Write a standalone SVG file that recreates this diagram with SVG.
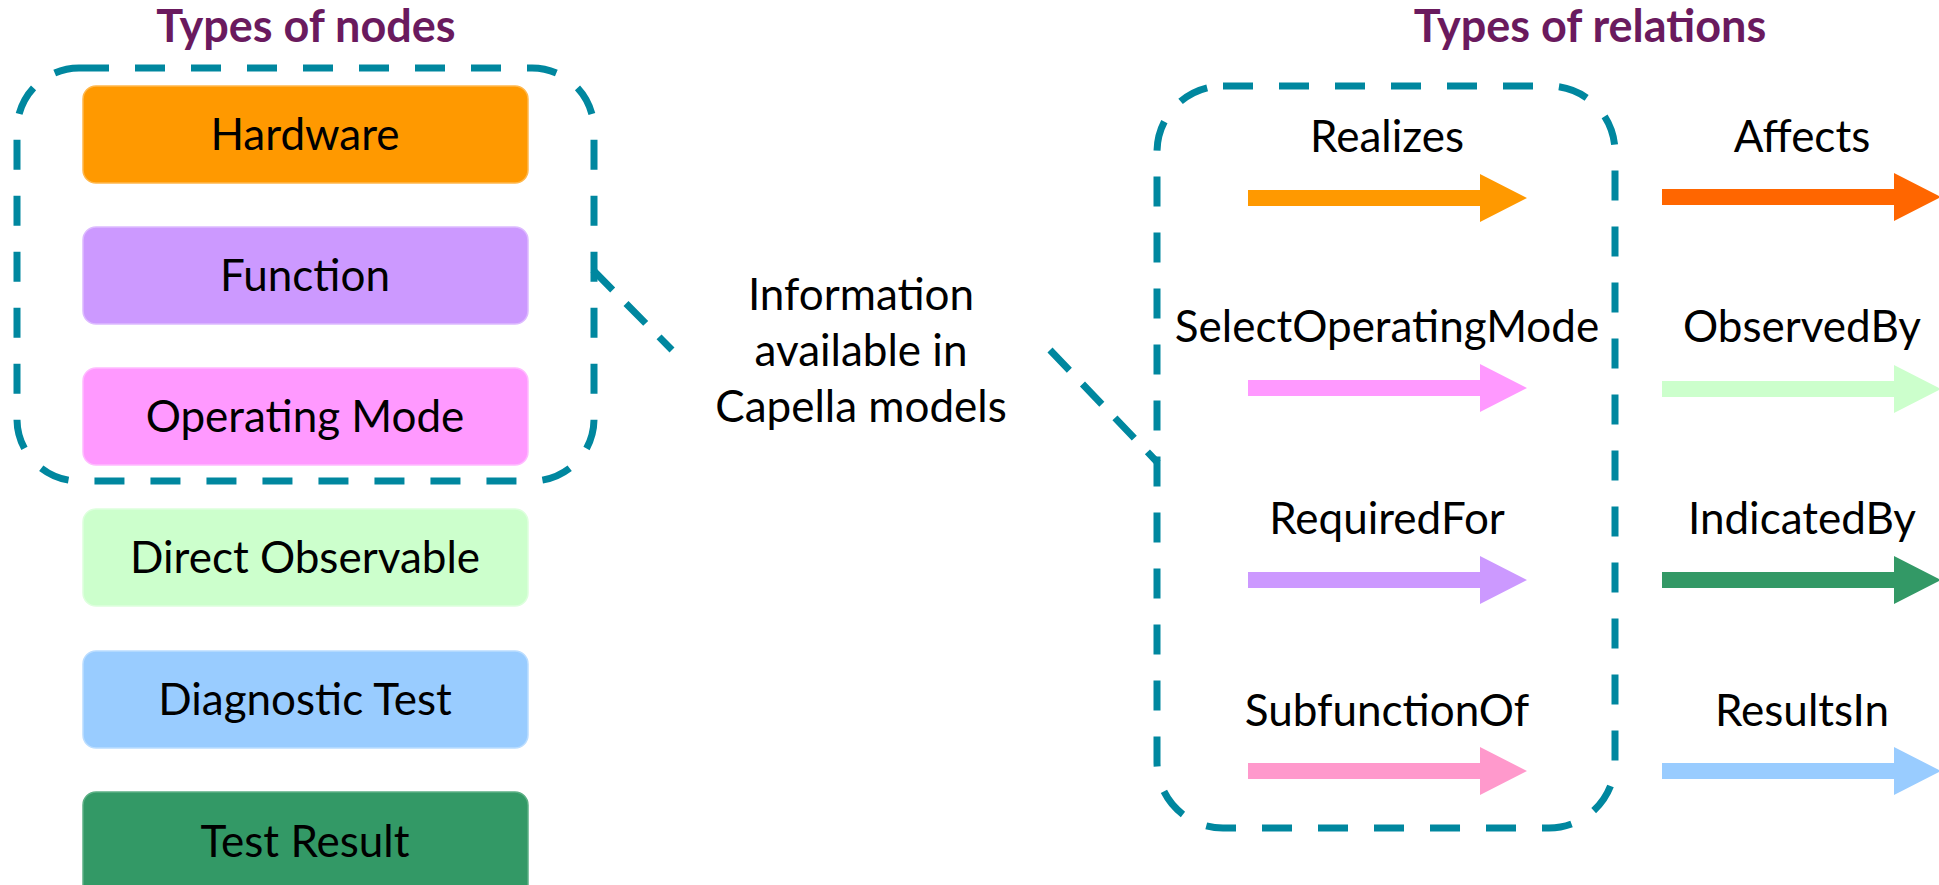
<svg xmlns="http://www.w3.org/2000/svg" width="1939" height="885" viewBox="0 0 1939 885">
  <defs>
    <style>
      .title { font-family: Lato, "Open Sans", sans-serif; font-weight: bold; font-size: 45px; fill: #6A1A5E; text-anchor: middle; }
      .lbl { font-family: Lato, "Open Sans", sans-serif; font-size: 44px; fill: #000000; text-anchor: middle; }
      .group { fill: none; stroke: #00879F; stroke-width: 7; stroke-dasharray: 30 26; }
      .link { fill: none; stroke: #00879F; stroke-width: 7; stroke-dasharray: 28 19; }
      .box { stroke-width: 1.5; }
    </style>
    <!-- block arrow: shaft 16 px thick, head 48 px tall, 47 px long -->
    <path id="arrowShape" d="M0,-8 H232 V-24 L279,0 L232,24 V8 H0 Z"/>
  </defs>

  <rect width="1939" height="885" fill="#FFFFFF"/>

  <!-- headings -->
  <text class="title" x="306" y="42">Types of nodes</text>
  <text class="title" x="1590" y="42">Types of relations</text>

  <!-- node types -->
  <g id="node-hardware">
    <rect class="box" x="83" y="86" width="445" height="97" rx="13" fill="#FF9900" stroke="#FFB84D"/>
    <text class="lbl" x="305" y="150">Hardware</text>
  </g>
  <g id="node-function">
    <rect class="box" x="83" y="227" width="445" height="97" rx="13" fill="#CC99FF" stroke="#DDBBFF"/>
    <text class="lbl" x="305" y="291">Function</text>
  </g>
  <g id="node-operating-mode">
    <rect class="box" x="83" y="368" width="445" height="97" rx="13" fill="#FF99FF" stroke="#FFBBFF"/>
    <text class="lbl" x="305" y="432">Operating Mode</text>
  </g>
  <g id="node-direct-observable">
    <rect class="box" x="83" y="509" width="445" height="97" rx="13" fill="#CCFFCC" stroke="#DDFFDD"/>
    <text class="lbl" x="305" y="573">Direct Observable</text>
  </g>
  <g id="node-diagnostic-test">
    <rect class="box" x="83" y="651" width="445" height="97" rx="13" fill="#99CCFF" stroke="#BBDDFF"/>
    <text class="lbl" x="305" y="715">Diagnostic Test</text>
  </g>
  <g id="node-test-result">
    <rect class="box" x="83" y="792" width="445" height="110" rx="13" fill="#339966" stroke="#5CB085"/>
    <text class="lbl" x="305" y="857">Test Result</text>
  </g>

  <!-- Capella model groupings -->
  <g id="group-capella-nodes">
    <rect class="group" x="17" y="68" width="577" height="413" rx="62"/>
  </g>
  <g id="group-capella-relations">
    <rect class="group" x="1157" y="86" width="458" height="742" rx="66"/>
  </g>

  <g id="note-capella">
    <text class="lbl" x="861" y="310">Information</text>
    <text class="lbl" x="861" y="366">available in</text>
    <text class="lbl" x="861" y="422">Capella models</text>
  </g>

  <!-- relation types -->
  <g id="rel-realizes">
    <use href="#arrowShape" x="1248" y="198" fill="#FF9900"/>
    <text class="lbl" x="1387" y="152">Realizes</text>
  </g>
  <g id="rel-select-operating-mode">
    <use href="#arrowShape" x="1248" y="388" fill="#FF99FF"/>
    <text class="lbl" x="1387" y="342">SelectOperatingMode</text>
  </g>
  <g id="rel-required-for">
    <use href="#arrowShape" x="1248" y="580" fill="#CC99FF"/>
    <text class="lbl" x="1387" y="534">RequiredFor</text>
  </g>
  <g id="rel-subfunction-of">
    <use href="#arrowShape" x="1248" y="771" fill="#FF99CC"/>
    <text class="lbl" x="1387" y="726">SubfunctionOf</text>
  </g>
  <g id="rel-affects">
    <use href="#arrowShape" x="1662" y="197" fill="#FF6600"/>
    <text class="lbl" x="1802" y="152">Affects</text>
  </g>
  <g id="rel-observed-by">
    <use href="#arrowShape" x="1662" y="389" fill="#CCFFCC"/>
    <text class="lbl" x="1802" y="342">ObservedBy</text>
  </g>
  <g id="rel-indicated-by">
    <use href="#arrowShape" x="1662" y="580" fill="#339966"/>
    <text class="lbl" x="1802" y="534">IndicatedBy</text>
  </g>
  <g id="rel-results-in">
    <use href="#arrowShape" x="1662" y="771" fill="#99CCFF"/>
    <text class="lbl" x="1802" y="726">ResultsIn</text>
  </g>

  <!-- connectors from the note to both groupings -->
  <g id="connectors">
    <line class="link" x1="593" y1="270" x2="672" y2="350"/>
    <line class="link" x1="1050" y1="350" x2="1158" y2="463"/>
  </g>
</svg>
